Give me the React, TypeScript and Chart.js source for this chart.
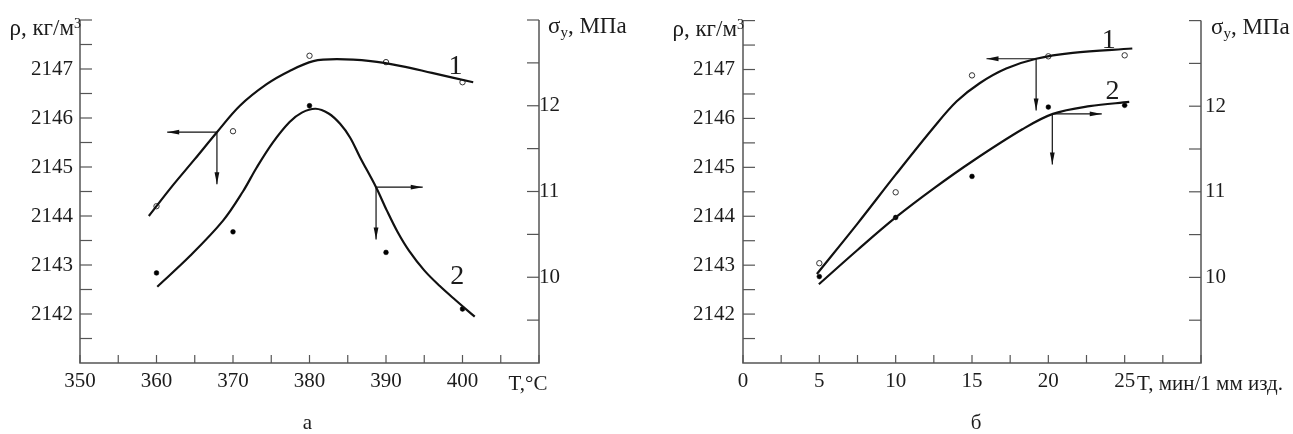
import React, { useEffect, useRef } from 'react';
import { Chart, registerables } from 'chart.js';
Chart.register(...registerables);

// ---------- Chart "а": T, °C ----------
const aPointT = [360, 370, 380, 390, 400];
const aRhoPoints = [2144.2, 2145.73, 2147.27, 2147.14, 2146.73];
const aSigmaPoints = [10.05, 10.53, 12.0, 10.29, 9.63];
const aCurve1T = [359.0, 362, 365, 367.9, 370.9, 374.4, 377.4, 380.5, 383.6, 388, 392, 396, 401.4];
const aCurve1Rho = [2144.0, 2144.6, 2145.16, 2145.71, 2146.25, 2146.69, 2146.96, 2147.16, 2147.2, 2147.16, 2147.06, 2146.92, 2146.73];
const aCurve2T = [360.1, 364.4, 368.7, 371.3, 373.1, 375.2, 377.4, 379, 380.8, 382.5, 384, 385.3, 386.6, 388.7, 390.1, 391.5, 393, 395, 397, 399, 401.6];
const aCurve2Sigma = [9.89, 10.25, 10.66, 11.0, 11.28, 11.57, 11.81, 11.92, 11.965, 11.91, 11.79, 11.63, 11.4, 11.05, 10.78, 10.53, 10.31, 10.08, 9.9, 9.74, 9.54];
const aXTicks = { min: 350, max: 410, step: 5, labelEvery: 10 };

// ---------- Chart "б": T, мин/1 мм изд. ----------
const bPointT = [5, 10, 15, 20, 25];
const bRhoPoints = [2143.04, 2144.49, 2146.88, 2147.27, 2147.29];
const bSigmaPoints = [10.01, 10.7, 11.18, 11.99, 12.01];
const bCurve1T = [4.84, 7.5, 10, 12.5, 14, 15.5, 17.24, 19.2, 21.6, 25.5];
const bCurve1Rho = [2142.82, 2143.85, 2144.85, 2145.82, 2146.35, 2146.72, 2147.02, 2147.22, 2147.34, 2147.43];
const bCurve2T = [4.97, 7.5, 10, 12.5, 15.05, 18.3, 20.3, 22.7, 25.3];
const bCurve2Sigma = [9.92, 10.32, 10.7, 11.04, 11.36, 11.73, 11.91, 12.0, 12.05];
const bXTicks = { min: 0, max: 30, step: 2.5, labelEvery: 5 };

// Shared axes
const rhoAxis = { min: 2141, max: 2148, step: 0.5 };
const sigmaAxis = { min: 9, max: 13, step: 0.5 };

// Arrows: anchor point (x, y on axis), horizontal end x, vertical end y
const aArrows = [
  { axis: 'y', x: 367.9, y: 2145.71, hx: 361.4, vy: 2144.65 },
  { axis: 'y2', x: 388.7, y: 11.05, hx: 394.8, vy: 10.44 },
];
const bArrows = [
  { axis: 'y', x: 19.2, y: 2147.22, hx: 15.95, vy: 2146.16 },
  { axis: 'y2', x: 20.26, y: 11.91, hx: 23.5, vy: 11.32 },
];
// Curve labels
const aCurveLabels = [
  { text: '1', axis: 'y', x: 399.1, y: 2146.9 },
  { text: '2', axis: 'y2', x: 399.3, y: 9.92 },
];
const bCurveLabels = [
  { text: '1', axis: 'y', x: 23.95, y: 2147.45 },
  { text: '2', axis: 'y2', x: 24.2, y: 12.08 },
];

const FONT = "'Liberation Serif', 'DejaVu Serif', serif";
const TXT = '#1c1c1c';
const AXIS = '#555';

function pts(xs: number[], ys: number[]) {
  return xs.map((x, i) => ({ x, y: ys[i] }));
}

function isMult(v: number, m: number) {
  return Math.abs(v / m - Math.round(v / m)) < 1e-6;
}

function makePlugin(opts: any) {
  return {
    id: 'custom' + opts.caption,
    afterDraw(chart: any) {
      const ctx = chart.ctx;
      const { left, right, top, bottom } = chart.chartArea;
      const xs = chart.scales.x, yl = chart.scales.y, yr = chart.scales.y2;
      ctx.save();
      ctx.strokeStyle = AXIS;
      ctx.lineWidth = 1.5;
      const line = (x1: number, y1: number, x2: number, y2: number) => {
        ctx.beginPath(); ctx.moveTo(x1, y1); ctx.lineTo(x2, y2); ctx.stroke();
      };
      ctx.beginPath();
      ctx.moveTo(left, top); ctx.lineTo(left, bottom); ctx.lineTo(right, bottom); ctx.lineTo(right, top);
      ctx.stroke();
      ctx.lineWidth = 1.2;
      yl.ticks.forEach((t: any) => {
        if (t.value <= yl.min) return;
        const p = yl.getPixelForValue(t.value); line(left, p, left + 12, p);
      });
      yr.ticks.forEach((t: any) => {
        if (t.value <= yr.min) return;
        const p = yr.getPixelForValue(t.value); line(right, p, right - 12, p);
      });
      xs.ticks.forEach((t: any) => {
        const p = xs.getPixelForValue(t.value); line(p, bottom, p, bottom - 8);
      });

      // arrows
      ctx.strokeStyle = '#111';
      ctx.fillStyle = '#111';
      ctx.lineWidth = 1.2;
      const head = (x: number, y: number, dx: number, dy: number) => {
        const L = 12, W = 2.4;
        const px = -dy, py = dx;
        ctx.beginPath();
        ctx.moveTo(x, y);
        ctx.lineTo(x - dx * L + px * W, y - dy * L + py * W);
        ctx.lineTo(x - dx * L - px * W, y - dy * L - py * W);
        ctx.closePath(); ctx.fill();
      };
      opts.arrows.forEach((a: any) => {
        const ys = chart.scales[a.axis];
        const x0 = xs.getPixelForValue(a.x), y0 = ys.getPixelForValue(a.y);
        const hx = xs.getPixelForValue(a.hx), vy = ys.getPixelForValue(a.vy);
        line(x0, y0, hx, y0);
        head(hx, y0, Math.sign(hx - x0), 0);
        line(x0, y0, x0, vy);
        head(x0, vy, 0, 1);
      });

      // curve labels
      ctx.fillStyle = TXT;
      ctx.font = `28px ${FONT}`;
      ctx.textAlign = 'center';
      ctx.textBaseline = 'alphabetic';
      opts.curveLabels.forEach((l: any) => {
        const ys = chart.scales[l.axis];
        ctx.fillText(l.text, xs.getPixelForValue(l.x), ys.getPixelForValue(l.y));
      });

      // axis titles
      ctx.font = `23px ${FONT}`;
      ctx.textAlign = 'left';
      const main = 'ρ, кг/м';
      const wMain = ctx.measureText(main).width;
      ctx.font = `14px ${FONT}`;
      const wSup = ctx.measureText('3').width;
      const startX = left + 1 - wMain - wSup;
      ctx.font = `23px ${FONT}`;
      ctx.fillText(main, startX, top + 15);
      ctx.font = `14px ${FONT}`;
      ctx.fillText('3', startX + wMain, top + 8);

      let sx = right + opts.sigmaGap;
      ctx.font = `23px ${FONT}`;
      ctx.fillText('σ', sx, top + 13);
      sx += ctx.measureText('σ').width;
      ctx.font = `15px ${FONT}`;
      ctx.fillText('y', sx, top + 17);
      sx += ctx.measureText('y').width;
      ctx.font = `23px ${FONT}`;
      ctx.fillText(', МПа', sx, top + 13);

      // x-axis title
      ctx.font = `21px ${FONT}`;
      ctx.textAlign = opts.xTitleAlign;
      ctx.fillText(opts.xTitle, xs.getPixelForValue(xs.max) + opts.xTitleDx, bottom + 27);

      // caption
      ctx.textAlign = 'center';
      ctx.fillText(opts.caption, (left + right) / 2 + opts.captionDx, bottom + 66);
      ctx.restore();
    },
  };
}

function buildConfig(o: any) {
  return {
    type: 'scatter',
    data: {
      datasets: [
        { data: pts(o.c1x, o.c1y), yAxisID: 'y', showLine: true, borderColor: '#111', borderWidth: 2.2, pointRadius: 0, tension: 0.35 },
        { data: pts(o.c2x, o.c2y), yAxisID: 'y2', showLine: true, borderColor: '#111', borderWidth: 2.2, pointRadius: 0, tension: 0.35 },
        { data: pts(o.px, o.rho), yAxisID: 'y', showLine: false, pointRadius: 2.7, borderWidth: 1, borderColor: '#333', backgroundColor: '#fff' },
        { data: pts(o.px, o.sig), yAxisID: 'y2', showLine: false, pointRadius: 2.4, borderWidth: 0.5, borderColor: '#000', backgroundColor: '#000' },
      ],
    },
    options: {
      animation: false,
      responsive: false,
      devicePixelRatio: 1,
      layout: { padding: { top: 20, left: 0, right: 0, bottom: 0 } },
      plugins: { legend: { display: false }, tooltip: { enabled: false } },
      events: [],
      scales: {
        x: {
          type: 'linear', min: o.xt.min, max: o.xt.max,
          grid: { display: false, drawTicks: false }, border: { display: false },
          afterFit: (s: any) => { s.height = 71; },
          afterBuildTicks: (s: any) => {
            const t = [];
            for (let v = o.xt.min; v <= o.xt.max + 1e-9; v += o.xt.step) t.push({ value: v });
            s.ticks = t;
          },
          ticks: {
            autoSkip: false, maxRotation: 0, padding: o.xPad, color: TXT,
            font: { family: FONT, size: 21 },
            callback: (v: number) => (isMult(v, o.xt.labelEvery) && v < o.xt.max ? String(v) : ''),
          },
        },
        y: {
          type: 'linear', position: 'left', min: rhoAxis.min, max: rhoAxis.max,
          grid: { display: false, drawTicks: false }, border: { display: false },
          afterFit: (s: any) => { s.width = o.leftW; },
          afterBuildTicks: (s: any) => {
            const t = [];
            for (let v = rhoAxis.min; v <= rhoAxis.max + 1e-9; v += rhoAxis.step) t.push({ value: v });
            s.ticks = t;
          },
          ticks: {
            autoSkip: false, padding: o.yPad, color: TXT, font: { family: FONT, size: 21 },
            callback: (v: number) => (isMult(v, 1) && v > rhoAxis.min && v < rhoAxis.max ? String(v) : ''),
          },
        },
        y2: {
          type: 'linear', position: 'right', min: sigmaAxis.min, max: sigmaAxis.max,
          grid: { display: false, drawTicks: false }, border: { display: false },
          afterFit: (s: any) => { s.width = o.rightW; },
          afterBuildTicks: (s: any) => {
            const t = [];
            for (let v = sigmaAxis.min; v <= sigmaAxis.max + 1e-9; v += sigmaAxis.step) t.push({ value: v });
            s.ticks = t;
          },
          ticks: {
            autoSkip: false, padding: o.y2Pad, color: TXT, font: { family: FONT, size: 21 },
            callback: (v: number) => (isMult(v, 1) && v > sigmaAxis.min && v < sigmaAxis.max ? String(v) : ''),
          },
        },
      },
    },
    plugins: [makePlugin(o)],
  };
}

function Panel({ o, left, width }: any) {
  const ref = useRef<HTMLCanvasElement>(null);
  useEffect(() => {
    const chart = new Chart(ref.current as any, buildConfig(o) as any);
    return () => chart.destroy();
  }, []);
  return <canvas ref={ref} width={width} height={434} style={{ position: 'absolute', left, top: 0, width, height: 434 }} />;
}

const panelA = {
  caption: 'а', px: aPointT, rho: aRhoPoints, sig: aSigmaPoints,
  c1x: aCurve1T, c1y: aCurve1Rho, c2x: aCurve2T, c2y: aCurve2Sigma, xt: aXTicks,
  arrows: aArrows, curveLabels: aCurveLabels,
  leftW: 80, rightW: 107, xPad: 6, yPad: 7, y2Pad: 0, sigmaGap: 9,
  xTitle: 'T,°C', xTitleAlign: 'center', xTitleDx: -11, captionDx: -2,
};
const panelB = {
  caption: 'б', px: bPointT, rho: bRhoPoints, sig: bSigmaPoints,
  c1x: bCurve1T, c1y: bCurve1Rho, c2x: bCurve2T, c2y: bCurve2Sigma, xt: bXTicks,
  arrows: bArrows, curveLabels: bCurveLabels,
  leftW: 97, rightW: 92, xPad: 6, yPad: 8, y2Pad: 4, sigmaGap: 10,
  xTitle: 'T, мин/1 мм изд.', xTitleAlign: 'left', xTitleDx: -64, captionDx: 4,
};

export default function App() {
  return (
    <div style={{ position: 'fixed', left: 0, top: 0, width: 1293, height: 434, background: '#fff', overflow: 'hidden' }}>
      <Panel o={panelA} left={0} width={646} />
      <Panel o={panelB} left={646} width={647} />
    </div>
  );
}
